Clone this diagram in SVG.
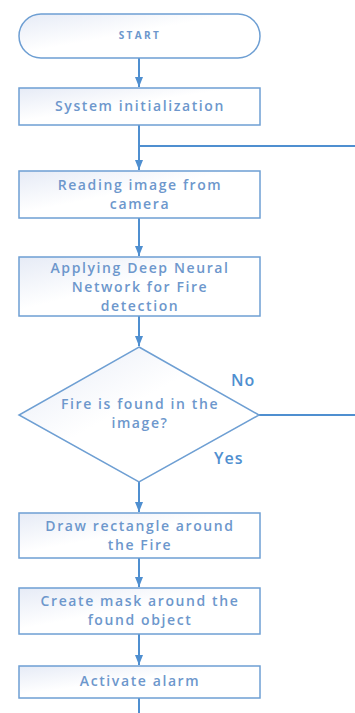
<svg xmlns="http://www.w3.org/2000/svg" width="355" height="713" viewBox="0 0 355 713">
  <defs>
    <linearGradient id="boxFill" x1="0" y1="0" x2="1" y2="1">
      <stop offset="0" stop-color="#e6ebf6"/>
      <stop offset="0.45" stop-color="#ffffff"/>
      <stop offset="1" stop-color="#ffffff"/>
    </linearGradient>
    <marker id="arrow" markerWidth="10" markerHeight="8" refX="10" refY="4" orient="auto" markerUnits="userSpaceOnUse">
      <path d="M0,0 L10,4 L0,8 Z" fill="#4f8fd0"/>
    </marker>
  </defs>
  <style>
    .shape { fill: url(#boxFill); stroke: #6e9fd3; stroke-width: 1.5; }
    .edge { fill: none; stroke: #4f8fd0; stroke-width: 2; }
    .label { font-family: "Open Sans", "Liberation Sans", sans-serif; font-size: 14px; font-weight: 600; letter-spacing: 1.6px; fill: #6d97cc; text-anchor: middle; }
    .small { font-size: 10px; font-weight: 700; letter-spacing: 2.4px; }
    .branch { font-family: "Open Sans", "Liberation Sans", sans-serif; font-size: 16px; font-weight: 600; letter-spacing: 1px; fill: #4f8fd0; }
  </style>
  <rect width="355" height="713" fill="#ffffff"/>

  <g id="connectors">
    <line class="edge" x1="139" y1="58" x2="139" y2="87" marker-end="url(#arrow)"/>
    <line class="edge" x1="139" y1="125" x2="139" y2="170" marker-end="url(#arrow)"/>
    <line class="edge" x1="139" y1="146" x2="355" y2="146"/>
    <line class="edge" x1="139" y1="218" x2="139" y2="256" marker-end="url(#arrow)"/>
    <line class="edge" x1="139" y1="316" x2="139" y2="346" marker-end="url(#arrow)"/>
    <line class="edge" x1="259" y1="415" x2="355" y2="415"/>
    <line class="edge" x1="139" y1="482" x2="139" y2="512" marker-end="url(#arrow)"/>
    <line class="edge" x1="139" y1="558" x2="139" y2="587" marker-end="url(#arrow)"/>
    <line class="edge" x1="139" y1="634" x2="139" y2="665" marker-end="url(#arrow)"/>
    <line class="edge" x1="139" y1="698" x2="139" y2="713"/>
    <text class="branch" x="231" y="386">No</text>
    <text class="branch" x="214" y="464">Yes</text>
  </g>

  <g id="start">
    <rect class="shape" x="19" y="14" width="241" height="44" rx="22" ry="22"/>
    <text class="label small" x="140" y="39">START</text>
  </g>

  <g id="init">
    <rect class="shape" x="19" y="88" width="241" height="37"/>
    <text class="label" x="140" y="111">System initialization</text>
  </g>

  <g id="read">
    <rect class="shape" x="19" y="171" width="241" height="47"/>
    <text class="label" x="140" y="190">Reading image from</text>
    <text class="label" x="140" y="209">camera</text>
  </g>

  <g id="dnn">
    <rect class="shape" x="19" y="257" width="241" height="59"/>
    <text class="label" x="140" y="273">Applying Deep Neural</text>
    <text class="label" x="140" y="292">Network for Fire</text>
    <text class="label" x="140" y="311">detection</text>
  </g>

  <g id="decision">
    <polygon class="shape" points="139,347 259,415 139,482 19,415"/>
    <text class="label" x="140" y="409">Fire is found in the</text>
    <text class="label" x="140" y="428">image?</text>
  </g>

  <g id="draw">
    <rect class="shape" x="19" y="513" width="241" height="45"/>
    <text class="label" x="140" y="531">Draw rectangle around</text>
    <text class="label" x="140" y="550">the Fire</text>
  </g>

  <g id="mask">
    <rect class="shape" x="19" y="588" width="241" height="46"/>
    <text class="label" x="140" y="606">Create mask around the</text>
    <text class="label" x="140" y="625">found object</text>
  </g>

  <g id="alarm">
    <rect class="shape" x="19" y="666" width="241" height="32"/>
    <text class="label" x="140" y="686">Activate alarm</text>
  </g>
</svg>
